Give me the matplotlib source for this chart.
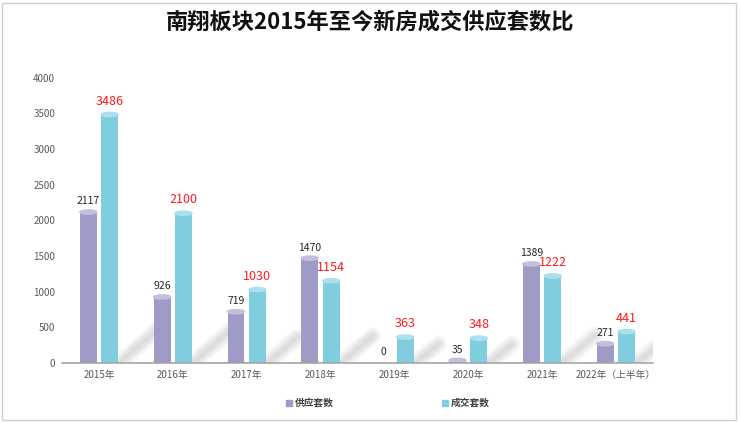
import numpy as np
import matplotlib.pyplot as plt
from matplotlib.patches import Ellipse, Rectangle
from matplotlib.lines import Line2D

plt.rcParams['font.family'] = ['Noto Sans CJK SC', 'DejaVu Sans']

years = ['2015年', '2016年', '2017年', '2018年', '2019年', '2020年', '2021年', '2022年（上半年）']
supply = [2117, 926, 719, 1470, 0, 35, 1389, 271]
deal = [3486, 2100, 1030, 1154, 363, 348, 1222, 441]
series_names = ['供应套数', '成交套数']

c_supply = '#9f9bc7'
c_supply_top = '#c3c0dd'
c_deal = '#80cde0'
c_deal_top = '#ace0ed'

fig = plt.figure(figsize=(7.4, 4.23), dpi=100)
ax = fig.add_axes([0.084, 0.142, 0.798, 0.674])

x = np.arange(len(years))
w = 0.23
off = 0.145
cap = 60

# soft diagonal shadows behind the bars
for i in range(len(years)):
    r = min(deal[i], 2100) / 2100
    dx = (28 + 22 * r) / 73.8
    dy = (15 + 22 * r) * 14.04
    x0 = x[i] + off + 0.02
    for lw in [12, 9, 6, 3]:
        ax.plot([x0, x0 + dx], [-100, dy], color='#6a6a6a', lw=lw, alpha=0.06,
                solid_capstyle='round', zorder=1)

for vals, xs, col, top in [(supply, x - off, c_supply, c_supply_top),
                           (deal, x + off, c_deal, c_deal_top)]:
    ax.bar(xs, vals, width=w, color=col, zorder=2)
    for xi, v in zip(xs, vals):
        if v <= 0:
            continue
        ax.add_patch(Ellipse((xi, 0), w, cap, color=col, zorder=2))
        ax.add_patch(Ellipse((xi, v), w, cap, color=top, zorder=3))

for xi, v in zip(x - off, supply):
    ax.annotate(str(v), (xi, v), xytext=(0, 4), textcoords='offset points',
                ha='center', va='bottom', fontsize=7.5, color='#262626', zorder=5)
for xi, v in zip(x + off, deal):
    ax.annotate(str(v), (xi, v), xytext=(0, 5), textcoords='offset points',
                ha='center', va='bottom', fontsize=9, color='#ff1a1a', zorder=5)

ax.set_xlim(-0.5, 7.5)
ax.set_ylim(0, 4000)
ax.set_yticks(np.arange(0, 4001, 500))
ax.set_xticks(x)
ax.set_xticklabels(years)
ax.tick_params(axis='both', length=0, labelsize=7, colors='#595959')
ax.tick_params(axis='x', pad=5)
ax.tick_params(axis='y', pad=5)
for s in ['top', 'right', 'left']:
    ax.spines[s].set_visible(False)
ax.spines['bottom'].set_color('#a6a6a6')
ax.spines['bottom'].set_linewidth(1.2)
ax.spines['bottom'].set_zorder(6)

fig.text(0.5, 0.948, '南翔板块2015年至今新房成交供应套数比', ha='center', va='center',
         fontsize=16, fontweight='heavy', color='#111111')

handles = [Line2D([], [], marker='s', ls='', color=c_supply, markersize=5),
           Line2D([], [], marker='s', ls='', color=c_deal, markersize=5)]
leg = fig.legend(handles, series_names, loc='center', bbox_to_anchor=(0.523, 0.047), ncol=2,
                 frameon=False, fontsize=7, columnspacing=11, handletextpad=0.1,
                 handlelength=1.0)
for t in leg.get_texts():
    t.set_color('#404040')
    t.set_fontweight('bold')

fig.patches.append(Rectangle((0.003, 0.008), 0.992, 0.985, transform=fig.transFigure,
                             fill=False, edgecolor='#d0d0d0', lw=1.0))

fig.savefig('out.png', dpi=100)
